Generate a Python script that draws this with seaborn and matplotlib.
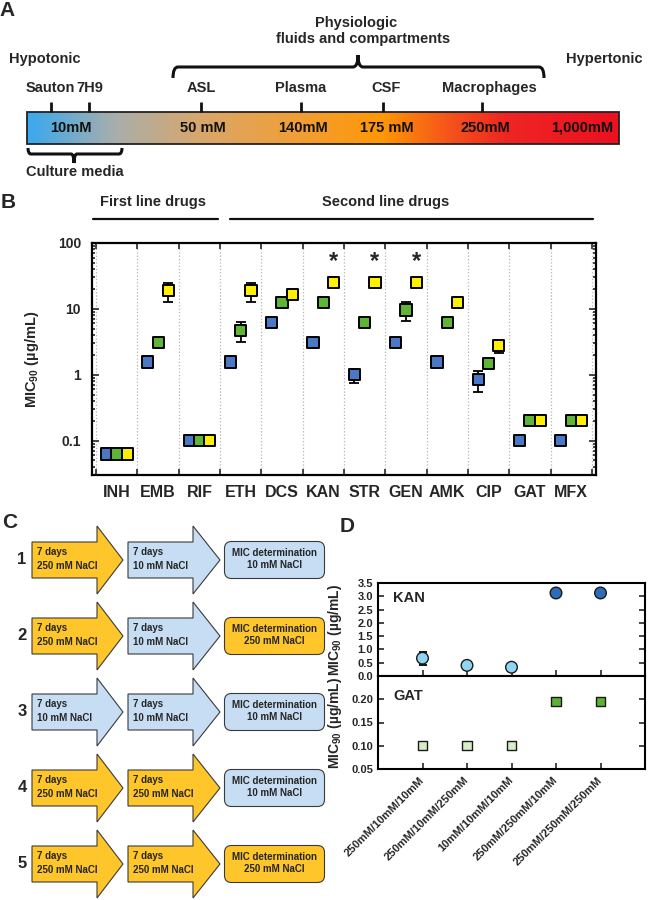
import numpy as np
import pandas as pd
import matplotlib.pyplot as plt
import seaborn as sns
from matplotlib.colors import LinearSegmentedColormap
from matplotlib.patches import Polygon, FancyBboxPatch, Rectangle, PathPatch
from matplotlib.path import Path
from matplotlib.ticker import LogLocator, NullFormatter

sns.set_theme(style="white")
plt.rcParams['font.family'] = ['Liberation Sans', 'DejaVu Sans']
plt.rcParams['font.weight'] = 'bold'
plt.rcParams['mathtext.fontset'] = 'custom'
plt.rcParams['mathtext.bf'] = 'Liberation Sans:bold'
plt.rcParams['mathtext.rm'] = 'Liberation Sans:bold'
plt.rcParams['mathtext.default'] = 'bf'
plt.rcParams['axes.edgecolor'] = 'black'

# ---- data: panel A (osmolarity scale) ----
media_names = ['Sauton', '7H9', 'ASL', 'Plasma', 'CSF', 'Macrophages']
conc_labels = ['10mM', '50 mM', '140mM', '175 mM', '250mM', '1,000mM']

# ---- data: panel B (MIC90, ug/mL) ----
drugs = ['INH', 'EMB', 'RIF', 'ETH', 'DCS', 'KAN', 'STR', 'GEN', 'AMK', 'CIP', 'GAT', 'MFX']
nan = np.nan
mic_blue = [0.0625, 1.56, 0.1, 1.56, 6.25, 3.125, 1.0, 3.125, 1.56, 0.84, 0.1, 0.1]
mic_green = [0.0625, 3.125, 0.1, 4.7, 12.5, 12.5, 6.25, 9.6, 6.25, 1.5, 0.2, 0.2]
mic_yellow = [0.0625, 18.75, 0.1, 18.75, 16.6, 25, 25, 25, 12.5, 2.75, 0.2, 0.2]
lo_blue = [nan, nan, nan, nan, nan, nan, 0.76, nan, nan, 0.54, nan, nan]
hi_blue = [nan, nan, nan, nan, nan, nan, 1.22, nan, nan, 1.12, nan, nan]
lo_green = [nan, nan, nan, 3.1, nan, nan, nan, 6.6, nan, nan, nan, nan]
hi_green = [nan, nan, nan, 6.3, nan, nan, nan, 12.7, nan, nan, nan, nan]
lo_yellow = [nan, 12.7, nan, 12.7, nan, nan, nan, nan, nan, 2.1, nan, nan]
hi_yellow = [nan, 25, nan, 25, nan, nan, nan, nan, nan, 3.3, nan, nan]
significant = ['KAN', 'STR', 'GEN']

# ---- data: panel C (protocol) ----
step1 = ['250 mM NaCl', '250 mM NaCl', '10 mM NaCl', '250 mM NaCl', '250 mM NaCl']
step2 = ['10 mM NaCl', '10 mM NaCl', '10 mM NaCl', '250 mM NaCl', '250 mM NaCl']
step_mic = ['10 mM NaCl', '250 mM NaCl', '10 mM NaCl', '10 mM NaCl', '250 mM NaCl']

# ---- data: panel D ----
d_conditions = ['250mM/10mM/10mM', '250mM/10mM/250mM', '10mM/10mM/10mM',
                '250mM/250mM/10mM', '250mM/250mM/250mM']
d_passage = ['10 mM', '10 mM', '10 mM', '250 mM', '250 mM']
kan_mic = [0.67, 0.40, 0.33, 3.125, 3.125]
kan_err = [0.24, 0, 0, 0, 0]
gat_mic = [0.10, 0.10, 0.10, 0.195, 0.195]

W, H = 648, 900
fig = plt.figure(figsize=(W / 100, H / 100), dpi=100)


def px_rect(x0, y0, x1, y1):
    return [x0 / W, 1 - y1 / H, (x1 - x0) / W, (y1 - y0) / H]


# overlay in pixel coords for drawings and annotations
ov = fig.add_axes([0, 0, 1, 1])
ov.axis('off')

# ================= Panel A =================
grad = LinearSegmentedColormap.from_list('osm', [
    (0.0, '#3AA9EE'), (0.15, '#AAAEAA'), (0.29, '#D8A76C'), (0.46, '#F29E34'),
    (0.60, '#FF9805'), (0.71, '#F5561A'), (0.81, '#EE2623'), (1.0, '#EC1020')])
ov.imshow(np.linspace(0, 1, 400)[None, :], cmap=grad, aspect='auto',
          extent=(27, 619, 144, 112), interpolation='bilinear', zorder=1)
ov.add_patch(Rectangle((27, 112), 592, 32, fill=False, lw=1.3, ec='#222222', zorder=2))

tick_x = [51, 89, 201, 301, 383, 482]
label_x = [50, 90, 201, 301, 386, 489]
for nm, tx, lx in zip(media_names, tick_x, label_x):
    ov.plot([tx, tx], [102, 112], color='#111111', lw=2, solid_capstyle='butt', zorder=3)
    ov.text(lx, 88, nm, ha='center', va='center', fontsize=10.5, fontweight='bold')

conc_x = [71, 203, 303, 387, 485, 582]
for lab, cx in zip(conc_labels, conc_x):
    ov.text(cx, 128, lab, ha='center', va='center', fontsize=10.5, fontweight='bold',
            color='#111111', zorder=3)


def brace(x0, x1, xm, y, end_dy, tip_dy, r=5):
    verts = [(x0, y + end_dy), (x0, y), (x0 + r, y), (xm - r, y), (xm, y),
             (xm, y + tip_dy), (xm, y), (xm + r, y), (x1 - r, y), (x1, y),
             (x1, y + end_dy)]
    codes = [Path.MOVETO, Path.CURVE3, Path.CURVE3, Path.LINETO, Path.CURVE3,
             Path.CURVE3, Path.CURVE3, Path.CURVE3, Path.LINETO, Path.CURVE3,
             Path.CURVE3]
    ov.add_patch(PathPatch(Path(verts, codes), fill=False, lw=2.2, ec='#111111'))


brace(173, 544, 358, 67, 11, -12)
brace(28, 122, 74, 154, -6, 9, r=3)

ov.text(7, 10, 'A', fontsize=15, fontweight='bold', ha='center', va='center')
ov.text(356, 23, 'Physiologic', fontsize=10.5, ha='center', va='center')
ov.text(363, 39, 'fluids and compartments', fontsize=10.5, ha='center', va='center')
ov.text(45, 59, 'Hypotonic', fontsize=10.5, ha='center', va='center')
ov.text(604, 59, 'Hypertonic', fontsize=10.5, ha='center', va='center')
ov.text(26, 172, 'Culture media', fontsize=10.5, ha='left', va='center')

# ================= Panel B =================
ov.text(8, 203, 'B', fontsize=15, fontweight='bold', ha='center', va='center')
ov.text(153, 202, 'First line drugs', fontsize=10.5, ha='center', va='center')
ov.text(386, 202, 'Second line drugs', fontsize=10.5, ha='center', va='center')
ov.plot([93, 218], [219, 219], color='#111111', lw=1.6)
ov.plot([230, 593], [219, 219], color='#111111', lw=1.6)

axB = fig.add_axes(px_rect(92, 243, 596, 475))
series = [('blue', mic_blue, lo_blue, hi_blue, -0.25),
          ('green', mic_green, lo_green, hi_green, 0.0),
          ('yellow', mic_yellow, lo_yellow, hi_yellow, 0.25)]
frames = []
for name, vals, lo, hi, off in series:
    frames.append(pd.DataFrame({'drug': drugs, 'series': name, 'mic': vals,
                                'lo': lo, 'hi': hi,
                                'x': np.arange(len(drugs)) + off}))
dfB = pd.concat(frames, ignore_index=True)

eb = dfB.dropna(subset=['lo'])
axB.errorbar(eb['x'], eb['mic'], yerr=[eb['mic'] - eb['lo'], eb['hi'] - eb['mic']],
             fmt='none', ecolor='black', elinewidth=1.3, capsize=3.5, capthick=1.3, zorder=2)
sns.scatterplot(data=dfB, x='x', y='mic', hue='series',
                palette={'blue': '#4A78C6', 'green': '#5FB535', 'yellow': '#FFF000'},
                marker='s', s=64, edgecolor='black', linewidth=1.4, legend=False,
                ax=axB, zorder=3)
for d in significant:
    row = dfB[(dfB['drug'] == d) & (dfB['series'] == 'yellow')].iloc[0]
    axB.text(row['x'], 52, '*', ha='center', va='center', fontsize=17, fontweight='bold')

axB.set_yscale('log')
axB.set_ylim(0.03, 100)
axB.set_xlim(-0.6, len(drugs) - 0.4)
axB.set_yticks([0.1, 1, 10, 100])
axB.set_yticklabels(['0.1', '1', '10', '100'])
axB.yaxis.set_minor_locator(LogLocator(base=10, subs=np.arange(2, 10)))
axB.yaxis.set_minor_formatter(NullFormatter())
axB.set_xticks(np.arange(len(drugs)))
axB.set_xticklabels(drugs)
axB.set_xticks(np.arange(-0.5, len(drugs)), minor=True)
axB.tick_params(axis='y', which='both', direction='in', left=True, right=True, width=1.2)
axB.tick_params(axis='y', which='major', length=5, labelsize=10, pad=8)
axB.tick_params(axis='y', which='minor', length=2.5)
axB.tick_params(axis='x', which='major', length=0, labelsize=11.5, pad=7)
axB.tick_params(axis='x', which='minor', direction='in', length=4, width=1.2,
                top=True, bottom=True)
axB.grid(True, axis='x', which='minor', ls=':', color='#b5b5b5', lw=0.9)
for sp in axB.spines.values():
    sp.set_linewidth(1.6)
axB.set_xlabel('')
axB.set_ylabel(r'MIC$_{90}$ (µg/mL)', fontsize=10.5, fontweight='bold')
axB.yaxis.set_label_coords(-0.101, 0.5)

# ================= Panel C =================
ov.text(10, 522, 'C', fontsize=15, fontweight='bold', ha='center', va='center')
gold, light_blue, edge = '#FEC62A', '#C6DDF3', '#3A3A3A'
narrow = ['Liberation Sans Narrow', 'Liberation Sans']


def arrow(x0, xh, xt, yc, color):
    pts = [(x0, yc - 18), (xh, yc - 18), (xh, yc - 34), (xt, yc),
           (xh, yc + 34), (xh, yc + 18), (x0, yc + 18)]
    ov.add_patch(Polygon(pts, closed=True, fc=color, ec=edge, lw=0.8, zorder=2))


for i, (s1, s2, sm) in enumerate(zip(step1, step2, step_mic)):
    yc = 560 + 76 * i
    ov.text(22, yc, str(i + 1), fontsize=12, fontweight='bold', ha='center', va='center')
    for (x0, xh, xt), txt in zip([(32, 97, 123), (128, 193, 220)], [s1, s2]):
        arrow(x0, xh, xt, yc, gold if txt.startswith('250') else light_blue)
        ov.text(x0 + 5, yc - 8, '7 days', fontsize=7, family=narrow,
                ha='left', va='center', zorder=3)
        ov.text(x0 + 5, yc + 6, txt, fontsize=7, family=narrow,
                ha='left', va='center', zorder=3)
    ov.add_patch(FancyBboxPatch((227, yc - 16), 95, 32,
                                boxstyle='round,pad=2.5,rounding_size=7',
                                fc=gold if sm.startswith('250') else light_blue,
                                ec=edge, lw=0.8, zorder=2))
    ov.text(274.5, yc - 7, 'MIC determination', fontsize=7, family=narrow,
            ha='center', va='center', zorder=3)
    ov.text(274.5, yc + 5, sm, fontsize=7, family=narrow,
            ha='center', va='center', zorder=3)

# ================= Panel D =================
ov.text(347, 527, 'D', fontsize=15, fontweight='bold', ha='center', va='center')
axT = fig.add_axes(px_rect(378, 583, 645, 676))
axG = fig.add_axes(px_rect(378, 676, 645, 769))
xd = np.arange(len(d_conditions))

axT.errorbar(xd, kan_mic, yerr=kan_err, fmt='none', ecolor='black',
             elinewidth=1.3, capsize=3, capthick=1.3, zorder=2)
sns.scatterplot(x=xd, y=kan_mic, hue=d_passage,
                palette={'10 mM': '#90D6F4', '250 mM': '#2E6BB8'},
                marker='o', s=70, edgecolor='#1a1a1a', linewidth=1.0,
                legend=False, ax=axT, zorder=3)
sns.scatterplot(x=xd, y=gat_mic, hue=d_passage,
                palette={'10 mM': '#D6EEC8', '250 mM': '#5DB233'},
                marker='s', s=42, edgecolor='#1a1a1a', linewidth=1.0,
                legend=False, ax=axG, zorder=3)

axT.set_ylim(0, 3.5)
axT.set_yticks(np.arange(0, 3.51, 0.5))
axT.set_yticklabels([f'{v:.1f}' for v in np.arange(0, 3.51, 0.5)])
axG.set_ylim(0.05, 0.25)
axG.set_yticks([0.05, 0.10, 0.15, 0.20])
axG.set_yticklabels(['0.05', '0.10', '0.15', '0.20'])
for ax in (axT, axG):
    ax.set_xlim(-1, 5)
    ax.set_xticks(xd)
    ax.tick_params(axis='both', direction='in', length=4, width=1.2,
                   left=True, right=True, bottom=True, labelsize=8, pad=3.5)
    for sp in ax.spines.values():
        sp.set_linewidth(1.5)
    ax.set_ylabel(r'MIC$_{90}$ (µg/mL)', fontsize=10, fontweight='bold')
    ax.yaxis.set_label_coords(-0.129, 0.5)
axT.set_xticklabels([])
axG.set_xticklabels(d_conditions, rotation=45, ha='right', va='center',
                    rotation_mode='anchor', fontsize=8)
axG.tick_params(axis='x', pad=7)
axT.text(0.056, 0.84, 'KAN', transform=axT.transAxes, fontsize=10.5, fontweight='bold',
         ha='left', va='center')
axG.text(0.056, 0.79, 'GAT', transform=axG.transAxes, fontsize=10.5, fontweight='bold',
         ha='left', va='center')

ov.set_xlim(0, W)
ov.set_ylim(H, 0)

fig.savefig('out.png', dpi=100)
